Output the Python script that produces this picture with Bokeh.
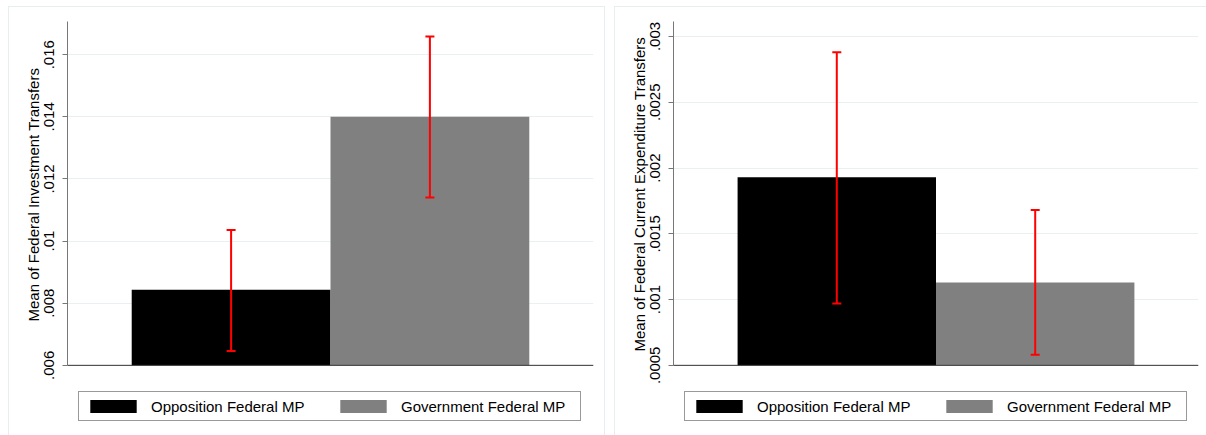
from bokeh.plotting import figure
from bokeh.layouts import row
from bokeh.models import (ColumnDataSource, Whisker, TeeHead, FixedTicker, Legend, LegendItem,
                          Range1d, Span, Title)
from bokeh.embed import file_html
from bokeh.resources import INLINE

# ---- data ----
groups = ["Opposition Federal MP", "Government Federal MP"]
bar_colors = ["#000000", "#808080"]

inv_means = [0.00843, 0.01400]
inv_lo = [0.00646, 0.01140]
inv_hi = [0.01036, 0.01659]
inv_ticks = [0.006, 0.008, 0.010, 0.012, 0.014, 0.016]
inv_tick_labels = [".006", ".008", ".01", ".012", ".014", ".016"]
inv_title = "Mean of Federal Investment Transfers"

cur_means = [0.00193, 0.00113]
cur_lo = [0.00097, 0.00058]
cur_hi = [0.00288, 0.00168]
cur_ticks = [0.0005, 0.0010, 0.0015, 0.0020, 0.0025, 0.0030]
cur_tick_labels = [".0005", ".001", ".0015", ".002", ".0025", ".003"]
cur_title = "Mean of Federal Current Expenditure Transfers"

FONT = "Liberation Sans"
FS = "15px"

PLOT_H = 343   # height of the drawing area above the legend strip
STRIP_H = 71   # legend strip below the x axis


def panel(means, lo, hi, ticks, tick_labels, title, title_offset, ymin, ymax, mbr, styles):
    y_start = ymin - (ymax - ymin) * STRIP_H / PLOT_H
    p = figure(frame_width=524, frame_height=PLOT_H + STRIP_H, output_backend="svg",
               toolbar_location=None, x_axis_location=None,
               x_range=Range1d(0.177, 2.823), y_range=Range1d(y_start, ymax),
               min_border_left=58, min_border_right=mbr,
               min_border_top=14, min_border_bottom=0)
    p.styles = styles
    p.outline_line_color = None
    p.background_fill_color = "white"
    p.border_fill_color = "white"

    # grid
    p.xgrid.grid_line_color = None
    p.ygrid.ticker = FixedTicker(ticks=ticks)
    p.ygrid.grid_line_color = "#e8f0f2"
    p.ygrid.grid_line_width = 1

    xs = [i + 1 for i in range(len(groups))]
    items = []
    for i, g in enumerate(groups):
        src = ColumnDataSource(dict(x=[xs[i]], top=[means[i]]))
        r = p.vbar(x="x", top="top", bottom=ymin, width=1.0, source=src,
                   fill_color=bar_colors[i], line_color=None)
        items.append(LegendItem(label=g, renderers=[r]))

    # x axis line (bottom of the chart area)
    p.add_layout(Span(location=ymin, dimension="width", line_color="#333333", line_width=1))

    esrc = ColumnDataSource(dict(x=xs, lo=lo, hi=hi))
    w = Whisker(base="x", lower="lo", upper="hi", source=esrc,
                line_color="#ff0000", line_width=2, level="overlay",
                upper_head=TeeHead(size=9, line_color="#ff0000", line_width=2),
                lower_head=TeeHead(size=9, line_color="#ff0000", line_width=2))
    p.add_layout(w)

    # y axis
    ax = p.yaxis[0]
    ax.bounds = (ymin, ymax)
    ax.ticker = FixedTicker(ticks=ticks)
    ax.major_label_overrides = {t: l for t, l in zip(ticks, tick_labels)}
    ax.major_label_orientation = "vertical"
    ax.major_label_text_font = FONT
    ax.major_label_text_font_size = FS
    ax.major_label_text_color = "black"
    ax.major_label_standoff = 8
    ax.axis_line_color = "#777777"
    ax.major_tick_line_color = "#777777"
    ax.major_tick_out = 5
    ax.major_tick_in = 0
    ax.minor_tick_line_color = None

    # y axis title, centred on the axis line (not on the legend strip)
    t = Title(text=title, align="left", offset=title_offset, standoff=0,
              text_font=FONT, text_font_size=FS, text_font_style="normal",
              text_color="black")
    p.add_layout(t, "left")

    leg = Legend(items=items, orientation="horizontal", location=(11, 15),
                 padding=5, spacing=9, glyph_width=58, glyph_height=16,
                 label_standoff=9, label_width=174, label_height=18,
                 label_text_font=FONT, label_text_font_size=FS,
                 label_text_color="black",
                 border_line_color="#333333", border_line_width=1,
                 background_fill_color="white", background_fill_alpha=1.0)
    p.add_layout(leg, "center")
    return p


p1 = panel(inv_means, inv_lo, inv_hi, inv_ticks, inv_tick_labels, inv_title, 115,
           0.006, 0.01707, 13,
           {"border-top": "1px solid #e6eef0", "border-left": "1px solid #e6eef0",
            "border-right": "1px solid #e6eef0"})
p2 = panel(cur_means, cur_lo, cur_hi, cur_ticks, cur_tick_labels, cur_title, 85,
           0.0005, 0.003114, 9,
           {"border-top": "1px solid #e6eef0", "border-left": "1px solid #e6eef0"})

p = row(p1, p2, spacing=9, margin=(6, 0, 0, 8))
open("out.html", "w").write(file_html(p, INLINE))
